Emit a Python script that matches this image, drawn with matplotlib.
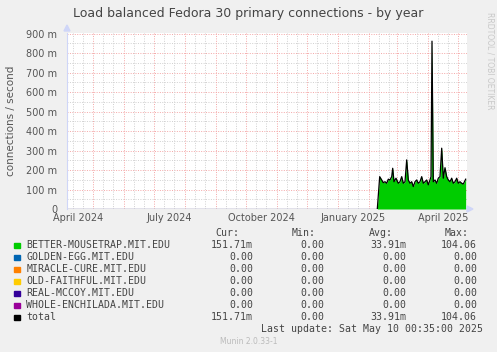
import matplotlib
matplotlib.use("Agg")
import matplotlib.pyplot as plt
from matplotlib.patches import Rectangle
import datetime as dt

# ---------------- data ----------------
title = "Load balanced Fedora 30 primary connections - by year"
ylabel = "connections / second"
last_update = dt.datetime(2025, 5, 10, 0, 35)
range_days = 400
data_start = dt.datetime(2025, 2, 9, 0, 35)

# day offsets from data_start and values (milli-connections/s)
day_offsets = [0.3, 2.7, 4.7, 6.3, 8.0, 9.7, 11.3, 13.0, 14.7, 15.7, 17.0, 19.0, 21.3,
               23.0, 24.7, 26.3, 28.0, 29.7, 31.3, 33.0, 34.7, 36.3, 38.0, 39.7, 41.3,
               43.0, 44.7, 46.3, 48.0, 49.7, 51.3, 53.0, 54.0, 55.0, 56.3, 58.0, 59.7,
               61.3, 63.0, 64.7, 66.3, 68.0, 69.7, 71.3, 73.0, 74.7, 76.3, 78.0, 79.7,
               81.3, 83.0, 84.7, 86.3, 88.7]
values_m = [0, 166, 149, 135, 140, 132, 153, 149, 166, 209, 140, 158, 132, 140, 166,
            132, 140, 252, 149, 132, 140, 115, 140, 149, 132, 140, 166, 132, 140, 149,
            124, 149, 166, 861, 140, 149, 132, 158, 166, 312, 158, 212, 166, 149, 140,
            158, 132, 140, 158, 132, 140, 132, 128, 153]

yticks_m = [0, 100, 200, 300, 400, 500, 600, 700, 800, 900]
ytick_labels = ["0", "100 m", "200 m", "300 m", "400 m", "500 m", "600 m", "700 m", "800 m", "900 m"]
xtick_dates = [dt.datetime(2024, 4, 16), dt.datetime(2024, 7, 16), dt.datetime(2024, 10, 16),
               dt.datetime(2025, 1, 16), dt.datetime(2025, 4, 16)]
xtick_labels = ["April 2024", "July 2024", "October 2024", "January 2025", "April 2025"]

legend_names = ["BETTER-MOUSETRAP.MIT.EDU", "GOLDEN-EGG.MIT.EDU", "MIRACLE-CURE.MIT.EDU",
                "OLD-FAITHFUL.MIT.EDU", "REAL-MCCOY.MIT.EDU", "WHOLE-ENCHILADA.MIT.EDU", "total"]
legend_colors = ["#00CC00", "#0066B3", "#FF8000", "#FFCC00", "#330099", "#990099", "#000000"]
cur_vals = ["151.71m", "0.00", "0.00", "0.00", "0.00", "0.00", "151.71m"]
min_vals = ["0.00", "0.00", "0.00", "0.00", "0.00", "0.00", "0.00"]
avg_vals = ["33.91m", "0.00", "0.00", "0.00", "0.00", "0.00", "33.91m"]
max_vals = ["104.06", "0.00", "0.00", "0.00", "0.00", "0.00", "104.06"]

# ---------------- figure ----------------
W, H = 497, 352
fig = plt.figure(figsize=(W / 100, H / 100), dpi=100, facecolor="#F0F0F0")

def fx(x):
    return x / W

def fy(y):
    return 1 - y / H

L, R, T, B = 67, 467, 33, 209
ax = fig.add_axes([fx(L), fy(B), (R - L) / W, (B - T) / H])
ax.set_facecolor("white")

xs = [data_start + dt.timedelta(days=d) for d in day_offsets]
vs = [v / 1000 for v in values_m]

start = last_update - dt.timedelta(days=range_days)
ax.set_xlim(start, last_update)
ax.set_ylim(0, 0.903)

# grid
minor_c = "#D0D0D0"
major_c = "#F4A6A6"
for v in range(50, 901, 100):
    ax.axhline(v / 1000, color=minor_c, lw=0.7, ls=(0, (1, 1.5)), zorder=1)
for v in range(100, 901, 100):
    ax.axhline(v / 1000, color=major_c, lw=0.7, ls=(0, (1, 1.5)), zorder=1)

d = dt.datetime(2024, 4, 1)
while d < last_update:
    for day in (11, 21):
        md = d.replace(day=day)
        if start < md < last_update:
            ax.axvline(md, color=minor_c, lw=0.7, ls=(0, (1, 1.5)), zorder=1)
    if d > start:
        ax.axvline(d, color=major_c, lw=0.7, ls=(0, (1, 1.5)), zorder=1)
    d = dt.datetime(d.year + (d.month // 12), d.month % 12 + 1, 1)

# data
ax.axhline(0, color="#6E6A96", lw=1.0, zorder=2)
ax.fill_between(xs, 0, vs, color="#00CC00", lw=0, zorder=3)
ax.plot(xs, vs, color="black", lw=0.9, zorder=4)

# axes
for s in ("top", "right", "bottom"):
    ax.spines[s].set_visible(False)
ax.spines["left"].set_color("#CFD6F8")
ax.tick_params(length=0, colors="#555555", labelsize=7)
ax.set_yticks([v / 1000 for v in yticks_m])
ax.set_yticklabels(ytick_labels)
ax.set_xticks(xtick_dates)
ax.set_xticklabels(xtick_labels)
ax.tick_params(axis="y", pad=7)
ax.tick_params(axis="x", pad=3)

# arrows
fig.patches.append(plt.Polygon([[fx(64), fy(31)], [fx(70), fy(31)], [fx(67), fy(25)]],
                               closed=True, color="#CFD6F8", transform=fig.transFigure))
fig.patches.append(plt.Polygon([[fx(467), fy(206)], [fx(467), fy(212)], [fx(473), fy(209)]],
                               closed=True, color="#CFD6F8", transform=fig.transFigure))

# titles
fig.text(0.5, fy(14), title, ha="center", va="center", fontsize=9, color="#444444")
fig.text(fx(11), fy(121), ylabel, rotation=90, ha="center", va="center", fontsize=7.5, color="#555555")
fig.text(fx(490), fy(12), "RRDTOOL / TOBI OETIKER", rotation=270, ha="center", va="top",
         fontsize=5.5, color="#C8C8C8")

# legend
mono = "DejaVu Sans Mono"
lc = "#444444"
fs = 7.1
headers = [("Cur:", 239), ("Min:", 316), ("Avg:", 393), ("Max:", 469)]
for h, x in headers:
    fig.text(fx(x), fy(233), h, ha="right", va="center", family=mono, fontsize=fs, color=lc)
for i, name in enumerate(legend_names):
    y = 245 + 12 * i
    fig.patches.append(Rectangle((fx(14), fy(y + 3)), 5.5 / W, 5.5 / H, color=legend_colors[i],
                                 transform=fig.transFigure))
    fig.text(fx(26.5), fy(y), name, ha="left", va="center", family=mono, fontsize=fs, color=lc)
    for vals, x in ((cur_vals, 253), (min_vals, 324), (avg_vals, 406), (max_vals, 477)):
        fig.text(fx(x), fy(y), vals[i], ha="right", va="center", family=mono, fontsize=fs, color=lc)

fig.text(fx(483), fy(329), "Last update: Sat May 10 00:35:00 2025", ha="right", va="center",
         family=mono, fontsize=fs, color=lc)
fig.text(0.5, fy(341), "Munin 2.0.33-1", ha="center", va="center", fontsize=5.5, color="#BBBBBB")

fig.savefig("out.png", dpi=100, facecolor="#F0F0F0")
